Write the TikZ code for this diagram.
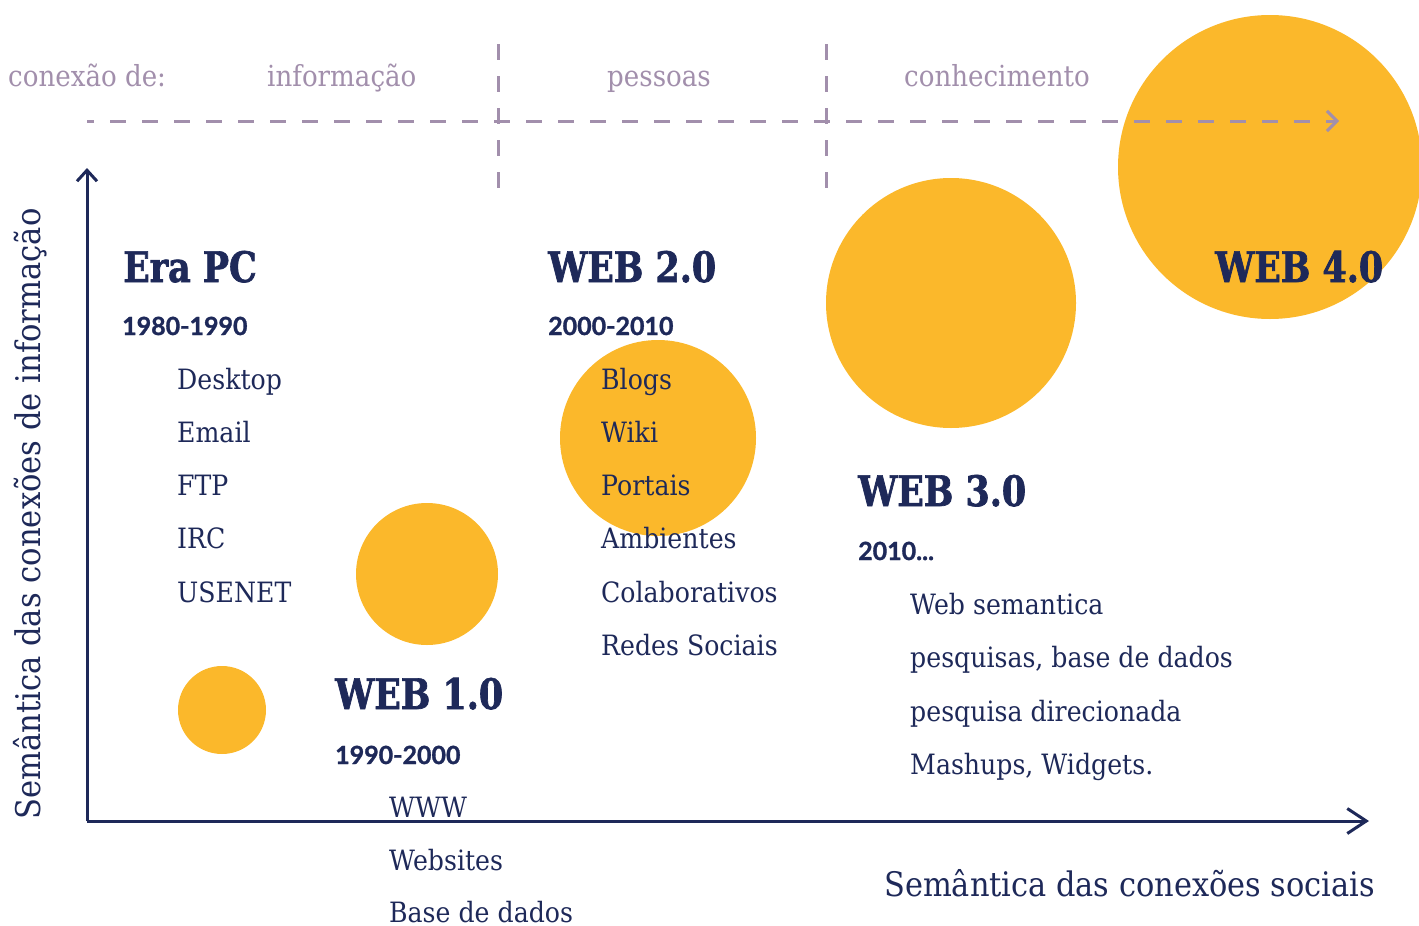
\documentclass[tikz,border=0pt]{standalone}
\usepackage{fontspec}
\setmainfont{DejaVu Serif}
\newfontfamily\bodyfont[FakeStretch=0.9]{DejaVu Serif}
\newfontfamily\headfont[FakeStretch=0.83, BoldFeatures={FakeBold=1.6}]{DejaVu Serif}
\newfontfamily\yearfont[BoldFeatures={FakeBold=1.2}]{Lato}
\usetikzlibrary{arrows.meta}
\definecolor{navy}{RGB}{30,41,89}
\definecolor{sun}{RGB}{251,184,43}
\definecolor{mauve}{RGB}{162,143,172}
\begin{document}
\begin{tikzpicture}[x=1pt,y=-1pt,
  body/.style={font=\bodyfont\fontsize{28}{32}\selectfont, text=navy, anchor=base west, inner sep=0pt},
  head/.style={font=\headfont\bfseries\fontsize{42}{48}\selectfont, text=navy, anchor=base west, inner sep=0pt},
  year/.style={font=\yearfont\bfseries\fontsize{25}{30}\selectfont, text=navy, anchor=base west, inner sep=0pt},
  toplabel/.style={font=\bodyfont\fontsize{29}{33}\selectfont, text=mauve, anchor=base west, inner sep=0pt},
  axislabel/.style={font=\bodyfont\fontsize{33.8}{38}\selectfont, text=navy, anchor=base west, inner sep=0pt},
  blob/.style={circle, fill=sun, draw=none, inner sep=0pt},
  axis/.style={draw=navy, line width=3pt},
  guide/.style={draw=mauve, line width=3pt, dash pattern=on 16pt off 16pt},
]
\useasboundingbox (0,0) rectangle (1419,926);
\clip (0,0) rectangle (1419,926);

% growth circles
\node[blob, minimum size=88pt]  (dot1) at (222,710) {};
\node[blob, minimum size=142pt] (dot2) at (427,574) {};
\node[blob, minimum size=196pt] (dot3) at (658,438) {};
\node[blob, minimum size=250pt] (dot4) at (951,303) {};
\node[blob, minimum size=304pt] (dot5) at (1270,167) {};

% dashed guides of the "conexão de" band
\coordinate (gstart) at (87,121);
\coordinate (gend) at (1339,121);
\coordinate (sepAtop) at (498,44);
\coordinate (sepAbot) at (498,188);
\coordinate (sepBtop) at (826,44);
\coordinate (sepBbot) at (826,188);
\draw[guide, dash phase=9pt, -{Straight Barb[length=10pt,width=20pt]}] (gstart) -- (gend);
\draw[guide] (sepAtop) -- (sepAbot);
\draw[guide] (sepBtop) -- (sepBbot);

% axes
\coordinate (origin) at (87,821);
\coordinate (ytop) at (87,168);
\coordinate (xend) at (1369,821);
\draw[axis, -{Straight Barb[length=11pt,width=20pt]}] (origin) -- (ytop);
\draw[axis, -{Straight Barb[length=19pt,width=25pt]}] (origin) -- (xend);

% band labels
\node[toplabel] (lconn) at (8,86) {conexão de:};
\node[toplabel] (linfo) at (267,86) {informação};
\node[toplabel] (lpeople) at (607,86) {pessoas};
\node[toplabel] (lknow) at (904,86) {conhecimento};

% axis labels
\node[axislabel] (xlabel) at (884,896) {Semântica das conexões sociais};
\node[axislabel, rotate=90, font=\bodyfont\fontsize{34}{38}\selectfont] (ylabel) at (40,820) {Semântica das conexões de informação};

% Era PC
\node[head] (h0) at (123,282) {Era PC};
\node[year] (y0) at (122,335) {1980-1990};
\node[body] (e1) at (177,389) {Desktop};
\node[body] (e2) at (177,442) {Email};
\node[body] (e3) at (177,495) {FTP};
\node[body] (e4) at (177,548) {IRC};
\node[body] (e5) at (177,602) {USENET};

% WEB 1.0
\node[head] (h1) at (335,709) {WEB 1.0};
\node[year] (y1) at (335,764) {1990-2000};
\node[body] (w1) at (389,817) {WWW};
\node[body] (w2) at (389,870) {Websites};
\node[body] (w3) at (389,922) {Base de dados};

% WEB 2.0
\node[head] (h2) at (548,282) {WEB 2.0};
\node[year] (y2) at (548,335) {2000-2010};
\node[body] (s1) at (601,389) {Blogs};
\node[body] (s2) at (601,442) {Wiki};
\node[body] (s3) at (601,495) {Portais};
\node[body] (s4) at (601,548) {Ambientes};
\node[body] (s5) at (601,602) {Colaborativos};
\node[body] (s6) at (601,655) {Redes Sociais};

% WEB 3.0
\node[head] (h3) at (858,506) {WEB 3.0};
\node[year] (y3) at (858,560) {2010...};
\node[body] (t1) at (910,614) {Web semantica};
\node[body] (t2) at (910,667) {pesquisas, base de dados};
\node[body] (t3) at (910,721) {pesquisa direcionada};
\node[body] (t4) at (910,774) {Mashups, Widgets.};

% WEB 4.0
\node[head] (h4) at (1215,282) {WEB 4.0};
\end{tikzpicture}
\end{document}
